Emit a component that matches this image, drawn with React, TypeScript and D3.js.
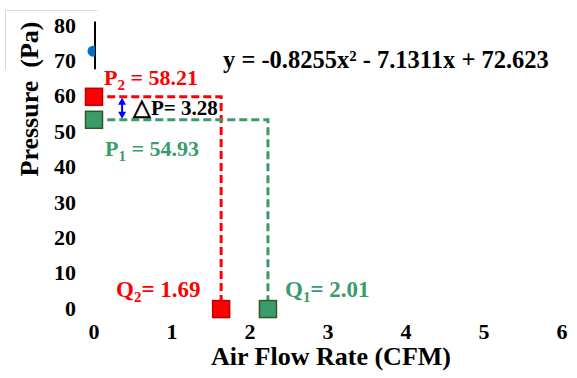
import React from "react";
import * as d3 from "d3";

const xTicks = [0, 1, 2, 3, 4, 5, 6];
const yTicks = [0, 10, 20, 30, 40, 50, 60, 70, 80];
// intercept point of fitted curve and its vertical bar
const fitPoint = { x: 0, y: 72.6 };
const fitBar = [67.5, 81];
// operating points as plotted
const p2 = { x: 0, y: 59.7 };
const p1 = { x: 0, y: 53.2 };
const q2 = { x: 1.63, y: -0.3 };
const q1 = { x: 2.23, y: -0.3 };
const guideStartX = 0.17;
const arrowX = 0.36;

const W = 577, H = 378;
const FONT = "'Liberation Serif', 'Times New Roman', serif";
const RED = "#ff0000";
const GREEN = "#3a9b6b";

export default function App() {
  const x = d3.scaleLinear().domain([0, 6]).range([94, 562]);
  const y = d3.scaleLinear().domain([0, 80]).range([308, 25]);
  const sq = 17;

  const redPath = d3.line()([
    [x(guideStartX), y(p2.y)],
    [x(q2.x), y(p2.y)],
    [x(q2.x), y(q2.y) - sq / 2],
  ]);
  const greenPath = d3.line()([
    [x(guideStartX), y(p1.y)],
    [x(q1.x), y(p1.y)],
    [x(q1.x), y(q1.y) - sq / 2],
  ]);

  const ax = x(arrowX);
  const ay1 = y(p2.y) + 1;
  const ay2 = y(p1.y) - 1;

  return (
    <svg width={W} height={H} style={{ position: "absolute", left: 0, top: 0, background: "#fff" }} fontFamily={FONT}>
      <defs>
        <clipPath id="leftClip">
          <rect x={0} y={0} width={x(0) + 1} height={H} />
        </clipPath>
      </defs>
      {/* faint box top-left */}
      <line x1={5} x2={97} y1={10.5} y2={10.5} stroke="#d9d9d9" strokeWidth={1} />
      <line x1={5.5} x2={5.5} y1={10} y2={70} stroke="#d9d9d9" strokeWidth={1} />

      {/* y tick labels */}
      {yTicks.map((t) => (
        <text key={t} x={76} y={y(t)} dy="0.35em" textAnchor="end" fontSize={22} fontWeight="bold">
          {t}
        </text>
      ))}
      {/* x tick labels */}
      {xTicks.map((t) => (
        <text key={t} x={x(t)} y={339} textAnchor="middle" fontSize={22} fontWeight="bold">
          {t}
        </text>
      ))}

      {/* axis titles */}
      <text
        transform={`translate(38,${99}) rotate(-90)`}
        textAnchor="middle"
        fontSize={26}
        fontWeight="bold"
        style={{ whiteSpace: "pre" }}
      >
        {"Pressure  (Pa)"}
      </text>
      <text x={331} y={365} textAnchor="middle" fontSize={26} fontWeight="bold">
        Air Flow Rate (CFM)
      </text>

      {/* fit intercept bar and point */}
      <line x1={x(fitPoint.x) + 1} x2={x(fitPoint.x) + 1} y1={y(fitBar[1])} y2={y(fitBar[0])} stroke="#000" strokeWidth={2} />
      <circle cx={x(fitPoint.x) - 1} cy={y(fitPoint.y)} r={5.5} fill="#0070c0" clipPath="url(#leftClip)" />

      {/* guide lines */}
      <path d={redPath ?? ""} fill="none" stroke={RED} strokeWidth={3} strokeDasharray="8,4" />
      <path d={greenPath ?? ""} fill="none" stroke={GREEN} strokeWidth={3} strokeDasharray="8,4" />

      {/* markers */}
      {[p2, q2].map((p, i) => (
        <rect key={"r" + i} x={x(p.x) - sq / 2} y={y(p.y) - sq / 2} width={sq} height={sq} fill={RED} stroke="#c00000" strokeWidth={1.5} />
      ))}
      {[p1, q1].map((p, i) => (
        <rect key={"g" + i} x={x(p.x) - sq / 2} y={y(p.y) - sq / 2} width={sq} height={sq} fill={GREEN} stroke="#375623" strokeWidth={1.5} />
      ))}

      {/* delta P arrow */}
      <line x1={ax} x2={ax} y1={ay1 + 5} y2={ay2 - 5} stroke="#0000ff" strokeWidth={2} />
      <path d={`M${ax - 4},${ay1 + 7}L${ax},${ay1}L${ax + 4},${ay1 + 7}Z`} fill="#0000ff" />
      <path d={`M${ax - 4},${ay2 - 7}L${ax},${ay2}L${ax + 4},${ay2 - 7}Z`} fill="#0000ff" />
      <text x={133} y={115} fontSize={21} fontWeight="bold" fill="#000">
        <tspan fontSize={23}>△</tspan>P= 3.28
      </text>

      {/* labels */}
      <text x={104} y={85} fontSize={22} fontWeight="bold" fill={RED}>
        P<tspan fontSize={15} dy={5}>2</tspan>
        <tspan dy={-5}> = 58.21</tspan>
      </text>
      <text x={105} y={156} fontSize={22} fontWeight="bold" fill={GREEN}>
        P<tspan fontSize={15} dy={5}>1</tspan>
        <tspan dy={-5}> = 54.93</tspan>
      </text>
      <text x={116} y={297} fontSize={23} fontWeight="bold" fill={RED}>
        Q<tspan fontSize={15} dy={5}>2</tspan>
        <tspan dy={-5}>= 1.69</tspan>
      </text>
      <text x={285} y={297} fontSize={23} fontWeight="bold" fill={GREEN}>
        Q<tspan fontSize={15} dy={5}>1</tspan>
        <tspan dy={-5}>= 2.01</tspan>
      </text>

      {/* equation */}
      <text x={223} y={68} fontSize={24.5} fontWeight="bold" fill="#000">
        y = -0.8255x² - 7.1311x + 72.623
      </text>
    </svg>
  );
}
